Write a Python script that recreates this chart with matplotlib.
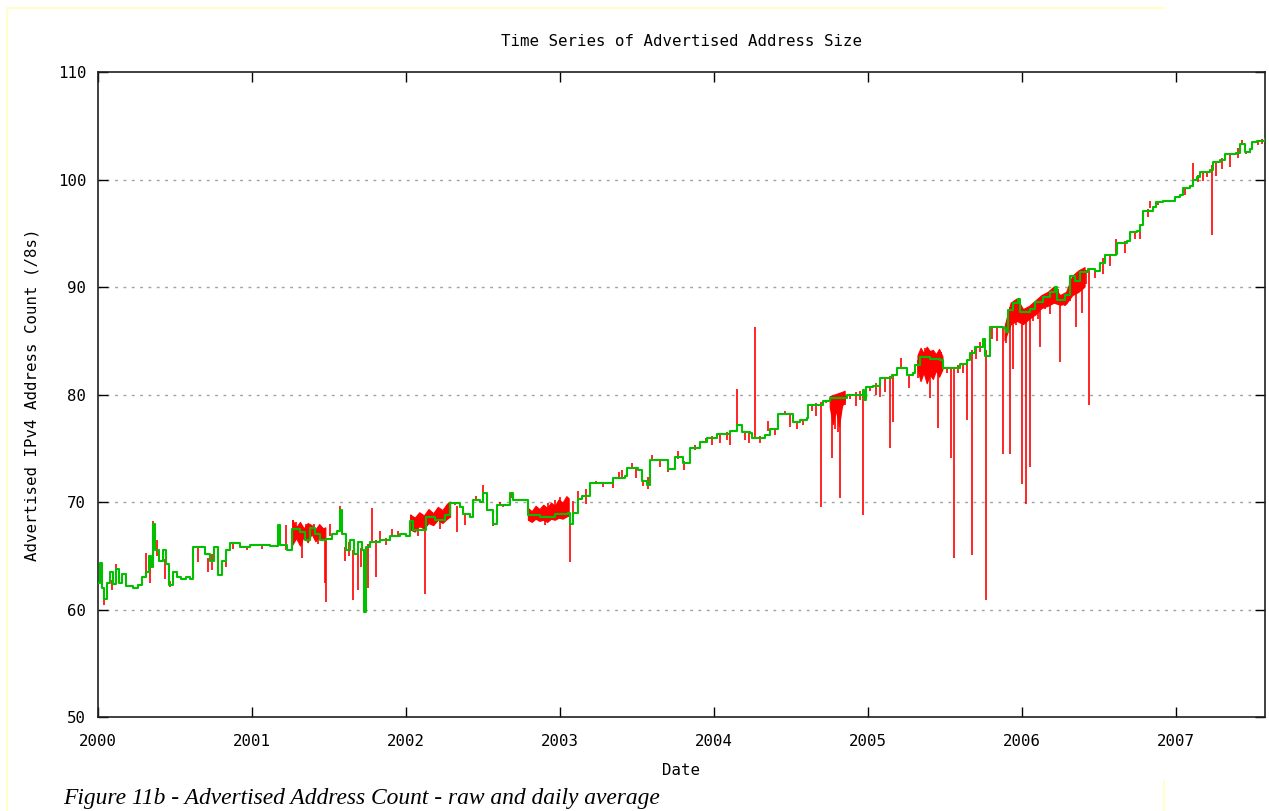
import numpy as np
import matplotlib.pyplot as plt
from matplotlib.lines import Line2D

# daily average (green), decimal years
avg_date = [
    2000.000, 2000.013, 2000.026, 2000.039, 2000.058, 2000.078, 2000.097, 2000.117, 2000.136, 2000.156,
    2000.182, 2000.227, 2000.260, 2000.286, 2000.312, 2000.331, 2000.344, 2000.357, 2000.370, 2000.396,
    2000.422, 2000.442, 2000.461, 2000.487, 2000.513, 2000.539, 2000.571, 2000.597, 2000.617, 2000.662,
    2000.695, 2000.727, 2000.753, 2000.779, 2000.805, 2000.831, 2000.857, 2000.922, 2000.987, 2001.052,
    2001.117, 2001.169, 2001.182, 2001.227, 2001.260, 2001.312, 2001.344, 2001.377, 2001.409, 2001.442,
    2001.481, 2001.519, 2001.552, 2001.571, 2001.584, 2001.610, 2001.636, 2001.662, 2001.688, 2001.714,
    2001.727, 2001.740, 2001.766, 2001.831, 2001.896, 2001.961, 2002.000, 2002.026, 2002.045, 2002.091,
    2002.130, 2002.188, 2002.253, 2002.286, 2002.351, 2002.370, 2002.416, 2002.435, 2002.481, 2002.500,
    2002.526, 2002.565, 2002.591, 2002.643, 2002.675, 2002.695, 2002.773, 2002.792, 2002.870, 2002.968,
    2003.052, 2003.065, 2003.084, 2003.117, 2003.143, 2003.195, 2003.292, 2003.344, 2003.422, 2003.435,
    2003.506, 2003.532, 2003.565, 2003.584, 2003.682, 2003.701, 2003.747, 2003.799, 2003.844, 2003.909,
    2003.955, 2004.019, 2004.104, 2004.149, 2004.182, 2004.234, 2004.247, 2004.331, 2004.364, 2004.403,
    2004.416, 2004.506, 2004.513, 2004.558, 2004.604, 2004.610, 2004.708, 2004.753, 2004.864, 2004.968,
    2004.974, 2004.987, 2005.032, 2005.078, 2005.156, 2005.188, 2005.227, 2005.253, 2005.292, 2005.305,
    2005.338, 2005.403, 2005.468, 2005.487, 2005.552, 2005.597, 2005.643, 2005.662, 2005.695, 2005.747,
    2005.760, 2005.792, 2005.877, 2005.896, 2005.909, 2005.942, 2005.974, 2005.987, 2006.052, 2006.084,
    2006.136, 2006.182, 2006.214, 2006.227, 2006.279, 2006.312, 2006.344, 2006.377, 2006.429, 2006.474,
    2006.506, 2006.539, 2006.610, 2006.617, 2006.682, 2006.701, 2006.747, 2006.766, 2006.786, 2006.851,
    2006.870, 2006.916, 2006.994, 2007.026, 2007.045, 2007.091, 2007.110, 2007.136, 2007.156, 2007.221,
    2007.240, 2007.286, 2007.318, 2007.390, 2007.416, 2007.435, 2007.448, 2007.481, 2007.494, 2007.526,
    2007.578,
]
avg_value = [
    62.5, 64.3, 62.0, 61.0, 62.5, 63.5, 62.4, 63.8, 62.5, 63.3,
    62.2, 62.0, 62.3, 63.0, 63.5, 65.0, 64.0, 68.0, 65.5, 64.5,
    65.5, 64.2, 62.3, 63.5, 63.0, 62.8, 63.0, 62.8, 65.8, 65.8,
    65.2, 64.5, 65.8, 63.2, 64.5, 65.5, 66.2, 65.8, 66.0, 66.0,
    65.9, 67.9, 66.0, 65.5, 67.5, 67.2, 66.5, 67.6, 67.0, 66.5,
    66.6, 67.0, 67.3, 69.3, 67.0, 65.5, 66.5, 65.2, 66.3, 65.5,
    59.8, 65.8, 66.3, 66.5, 66.8, 67.0, 66.8, 68.2, 67.4, 67.4,
    68.6, 68.3, 68.8, 69.9, 69.5, 68.9, 68.6, 70.2, 70.0, 70.8,
    69.3, 68.0, 69.7, 69.7, 70.8, 70.2, 70.2, 68.8, 68.6, 68.9,
    69.0, 68.0, 69.0, 70.3, 70.6, 71.8, 71.8, 72.2, 72.4, 73.2,
    73.0, 72.0, 71.6, 73.9, 73.9, 73.1, 74.2, 73.6, 75.0, 75.6,
    76.0, 76.3, 76.6, 77.2, 76.5, 76.4, 76.0, 76.2, 76.8, 76.8,
    78.2, 78.2, 77.4, 77.6, 77.8, 79.0, 79.4, 79.7, 80.0, 80.4,
    79.5, 80.7, 80.8, 81.5, 81.8, 82.5, 82.5, 81.8, 82.0, 82.7,
    83.5, 83.3, 83.2, 82.5, 82.5, 82.8, 83.2, 83.9, 84.4, 85.2,
    83.6, 86.3, 86.2, 85.8, 87.9, 88.5, 88.9, 87.7, 88.0, 88.6,
    89.1, 89.5, 90.0, 88.8, 89.3, 91.0, 90.6, 91.4, 91.7, 91.5,
    92.2, 93.0, 93.1, 94.1, 94.3, 95.1, 95.2, 95.8, 97.1, 97.4,
    97.9, 98.0, 98.4, 98.6, 99.2, 99.4, 100.0, 100.2, 100.7, 100.9,
    101.6, 101.8, 102.4, 102.5, 103.3, 103.3, 102.6, 102.8, 103.5, 103.6,
    103.8,
]

# raw samples (red) that stray from the daily average
raw_date = [
    2000.039, 2000.091, 2000.117, 2000.312, 2000.338, 2000.357, 2000.383, 2000.435, 2000.468, 2000.649,
    2000.714, 2000.740, 2000.831, 2000.877, 2000.968, 2001.065, 2001.221, 2001.266, 2001.286, 2001.325,
    2001.351, 2001.403, 2001.429, 2001.455, 2001.474, 2001.481, 2001.506, 2001.571, 2001.604, 2001.630,
    2001.656, 2001.688, 2001.708, 2001.727, 2001.753, 2001.779, 2001.805, 2001.831, 2001.870, 2001.909,
    2001.948, 2002.039, 2002.078, 2002.123, 2002.169, 2002.221, 2002.273, 2002.318, 2002.331, 2002.383,
    2002.455, 2002.500, 2002.526, 2002.565, 2002.610, 2002.630, 2002.688, 2002.740, 2002.805, 2002.903,
    2002.922, 2002.968, 2003.000, 2003.065, 2003.084, 2003.117, 2003.169, 2003.234, 2003.279, 2003.344,
    2003.383, 2003.403, 2003.468, 2003.494, 2003.539, 2003.571, 2003.597, 2003.649, 2003.701, 2003.766,
    2003.805, 2003.877, 2003.948, 2003.987, 2004.039, 2004.084, 2004.104, 2004.149, 2004.201, 2004.227,
    2004.266, 2004.299, 2004.351, 2004.396, 2004.461, 2004.494, 2004.539, 2004.578, 2004.636, 2004.662,
    2004.695, 2004.727, 2004.766, 2004.786, 2004.805, 2004.818, 2004.851, 2004.883, 2004.922, 2004.948,
    2004.968, 2005.013, 2005.052, 2005.078, 2005.110, 2005.143, 2005.162, 2005.214, 2005.266, 2005.325,
    2005.370, 2005.403, 2005.435, 2005.455, 2005.474, 2005.513, 2005.539, 2005.558, 2005.584, 2005.617,
    2005.643, 2005.675, 2005.701, 2005.727, 2005.766, 2005.805, 2005.838, 2005.877, 2005.896, 2005.922,
    2005.942, 2005.961, 2006.000, 2006.026, 2006.052, 2006.071, 2006.104, 2006.117, 2006.149, 2006.182,
    2006.234, 2006.247, 2006.279, 2006.312, 2006.351, 2006.390, 2006.416, 2006.435, 2006.474, 2006.526,
    2006.571, 2006.610, 2006.669, 2006.734, 2006.766, 2006.818, 2006.831, 2006.883, 2007.058, 2007.110,
    2007.143, 2007.175, 2007.201, 2007.234, 2007.260, 2007.299, 2007.351, 2007.403, 2007.429, 2007.455,
    2007.481, 2007.532, 2007.558,
]
raw_value = [
    60.4, 61.8, 64.2, 65.3, 62.5, 68.2, 66.5, 62.8, 62.1, 64.4,
    63.5, 63.7, 64.0, 65.6, 65.5, 65.6, 67.9, 68.3, 68.1, 64.8,
    68.0, 68.0, 66.1, 67.5, 62.5, 60.7, 68.0, 69.6, 64.5, 65.0,
    60.9, 61.8, 64.0, 59.8, 62.0, 69.4, 63.0, 67.3, 66.0, 67.5,
    67.3, 68.5, 66.8, 61.4, 69.1, 67.5, 69.5, 70.0, 67.2, 67.9,
    70.6, 71.6, 69.2, 67.8, 70.0, 69.5, 70.7, 70.3, 68.2, 67.9,
    69.9, 70.2, 70.5, 64.4, 70.1, 71.0, 69.8, 72.0, 71.4, 71.3,
    72.8, 73.0, 73.6, 72.2, 71.5, 71.2, 74.4, 73.3, 72.8, 74.7,
    73.0, 74.8, 75.5, 75.3, 75.5, 75.8, 75.3, 80.5, 75.8, 75.5,
    86.3, 75.5, 77.5, 76.2, 78.5, 77.0, 76.8, 77.2, 78.5, 78.0,
    69.5, 79.2, 74.1, 76.8, 76.5, 70.4, 79.0, 79.6, 78.9, 79.5,
    68.8, 80.3, 80.0, 79.8, 80.2, 75.0, 77.4, 83.4, 80.6, 81.5,
    84.3, 79.7, 82.0, 76.9, 84.0, 82.0, 74.1, 64.8, 82.0, 82.0,
    77.6, 65.1, 83.3, 84.0, 60.9, 85.2, 85.0, 74.5, 84.8, 74.5,
    82.4, 86.5, 71.7, 69.8, 73.3, 86.8, 87.0, 84.4, 88.0, 87.5,
    89.8, 83.0, 88.2, 88.7, 86.3, 87.6, 90.3, 79.0, 90.8, 91.2,
    92.0, 94.5, 93.2, 94.5, 94.5, 96.5, 98.0, 97.6, 98.6, 101.5,
    99.8, 99.9, 100.2, 94.8, 100.3, 101.0, 101.2, 102.0, 103.7, 102.4,
    102.5, 103.2, 103.3,
]

# spans where the raw samples wander densely around the average (NaN splits spans)
nan = np.nan
band_date = [2001.266, 2001.290, 2001.315, 2001.340, 2001.365, 2001.390, 2001.415, 2001.440, 2001.465, 2001.480, nan,
             2002.030, 2002.060, 2002.090, 2002.120, 2002.150, 2002.180, 2002.210, 2002.240, 2002.270, 2002.290, nan,
             2002.795, 2002.820, 2002.845, 2002.870, 2002.895, 2002.920, 2002.945, 2002.970, 2002.995, 2003.020,
             2003.045, 2003.060, nan,
             2004.755, 2004.775, 2004.795, 2004.815, 2004.835, 2004.852, nan,
             2005.325, 2005.345, 2005.365, 2005.385, 2005.405, 2005.425, 2005.445, 2005.465, 2005.487, nan,
             2005.890, 2005.930, 2005.970, 2006.010, 2006.050, 2006.090, 2006.130, 2006.170, 2006.210, 2006.250,
             2006.290, 2006.330, 2006.370, 2006.410]
band_low = [66.0, 66.6, 65.9, 66.8, 66.2, 67.0, 66.3, 66.8, 66.4, 66.6, nan,
            67.4, 67.2, 67.7, 67.5, 68.0, 67.8, 68.3, 68.0, 68.4, 68.6, nan,
            68.3, 68.1, 68.4, 68.2, 68.3, 68.1, 68.4, 68.3, 68.5, 68.4, 68.6, 68.7, nan,
            78.8, 77.2, 78.5, 77.0, 78.9, 79.3, nan,
            82.3, 81.2, 82.0, 81.0, 81.8, 81.4, 82.2, 81.6, 82.3, nan,
            85.0, 86.5, 86.8, 86.5, 87.0, 87.4, 88.0, 88.2, 88.5, 88.3, 88.4, 89.2, 89.5, 90.0]
band_high = [68.3, 67.6, 68.1, 67.5, 68.0, 67.8, 67.4, 67.9, 67.5, 67.6, nan,
             68.8, 68.5, 69.0, 68.7, 69.3, 68.9, 69.5, 69.2, 69.8, 70.0, nan,
             69.4, 69.1, 69.6, 69.3, 69.7, 69.4, 69.9, 69.6, 70.2, 69.9, 70.5, 70.3, nan,
             79.8, 79.9, 80.0, 80.1, 80.2, 80.3, nan,
             83.6, 84.3, 83.8, 84.4, 84.0, 84.1, 83.7, 84.2, 83.5, nan,
             86.3, 88.5, 88.9, 87.9, 88.2, 88.7, 89.2, 89.5, 90.0, 89.2, 89.5, 91.0, 91.5, 91.8]

year_ticks = [2000, 2001, 2002, 2003, 2004, 2005, 2006, 2007]
value_ticks = [50, 60, 70, 80, 90, 100, 110]

RED = '#ff0000'
GREEN = '#00c000'
plt.rcParams['font.family'] = ['DejaVu Sans Mono']
FS = 11.3

fig = plt.figure(figsize=(12.69, 8.11), dpi=100)
ax = fig.add_axes([0.0772, 0.1159, 0.9196, 0.7953])

ax.fill_between(band_date, band_low, band_high, color=RED, linewidth=0.8, edgecolor=RED, zorder=2)
base = np.interp(raw_date, avg_date, avg_value)
ax.vlines(raw_date, base, raw_value, color=RED, linewidth=1.2, zorder=2)
ax.plot(avg_date, avg_value, color=GREEN, linewidth=1.5, drawstyle='steps-post', zorder=3)

ax.set_xlim(2000, 2007.578)
ax.set_ylim(50, 110)
ax.set_xticks(year_ticks)
ax.set_xticklabels([str(y) for y in year_ticks])
ax.set_yticks(value_ticks)
ax.tick_params(direction='in', length=7, width=1, top=True, right=True, labelsize=FS)
ax.tick_params(axis='x', pad=12)
ax.tick_params(axis='y', pad=8.5)
for s in ax.spines.values():
    s.set_linewidth(1.2)
    s.set_color('#202020')

for v in value_ticks[1:-1]:
    ax.axhline(v, color='#a0a0a0', linewidth=1, linestyle=(0, (2, 4)), zorder=1)

ax.set_title('Time Series of Advertised Address Size', fontsize=FS, pad=18.5)
ax.set_xlabel('Date', fontsize=FS, labelpad=10.5)
ax.set_ylabel('Advertised IPv4 Address Count (/8s)', fontsize=FS, labelpad=13)

fig.text(0.0496, 0.0086, 'Figure 11b - Advertised Address Count - raw and daily average',
         family='Liberation Serif', style='italic', fontsize=16.9)

# light yellow page frame
frame = '#ffffc8'
fig.add_artist(Line2D([7 / 1269, 1165 / 1269], [1 - 8 / 811, 1 - 8 / 811], color=frame, linewidth=1.5))
fig.add_artist(Line2D([7 / 1269, 7 / 1269], [0, 1 - 8 / 811], color=frame, linewidth=1.5))
fig.add_artist(Line2D([1164 / 1269, 1164 / 1269], [0, 1 - 781 / 811], color=frame, linewidth=1.5))

fig.savefig('out.png', dpi=100)
